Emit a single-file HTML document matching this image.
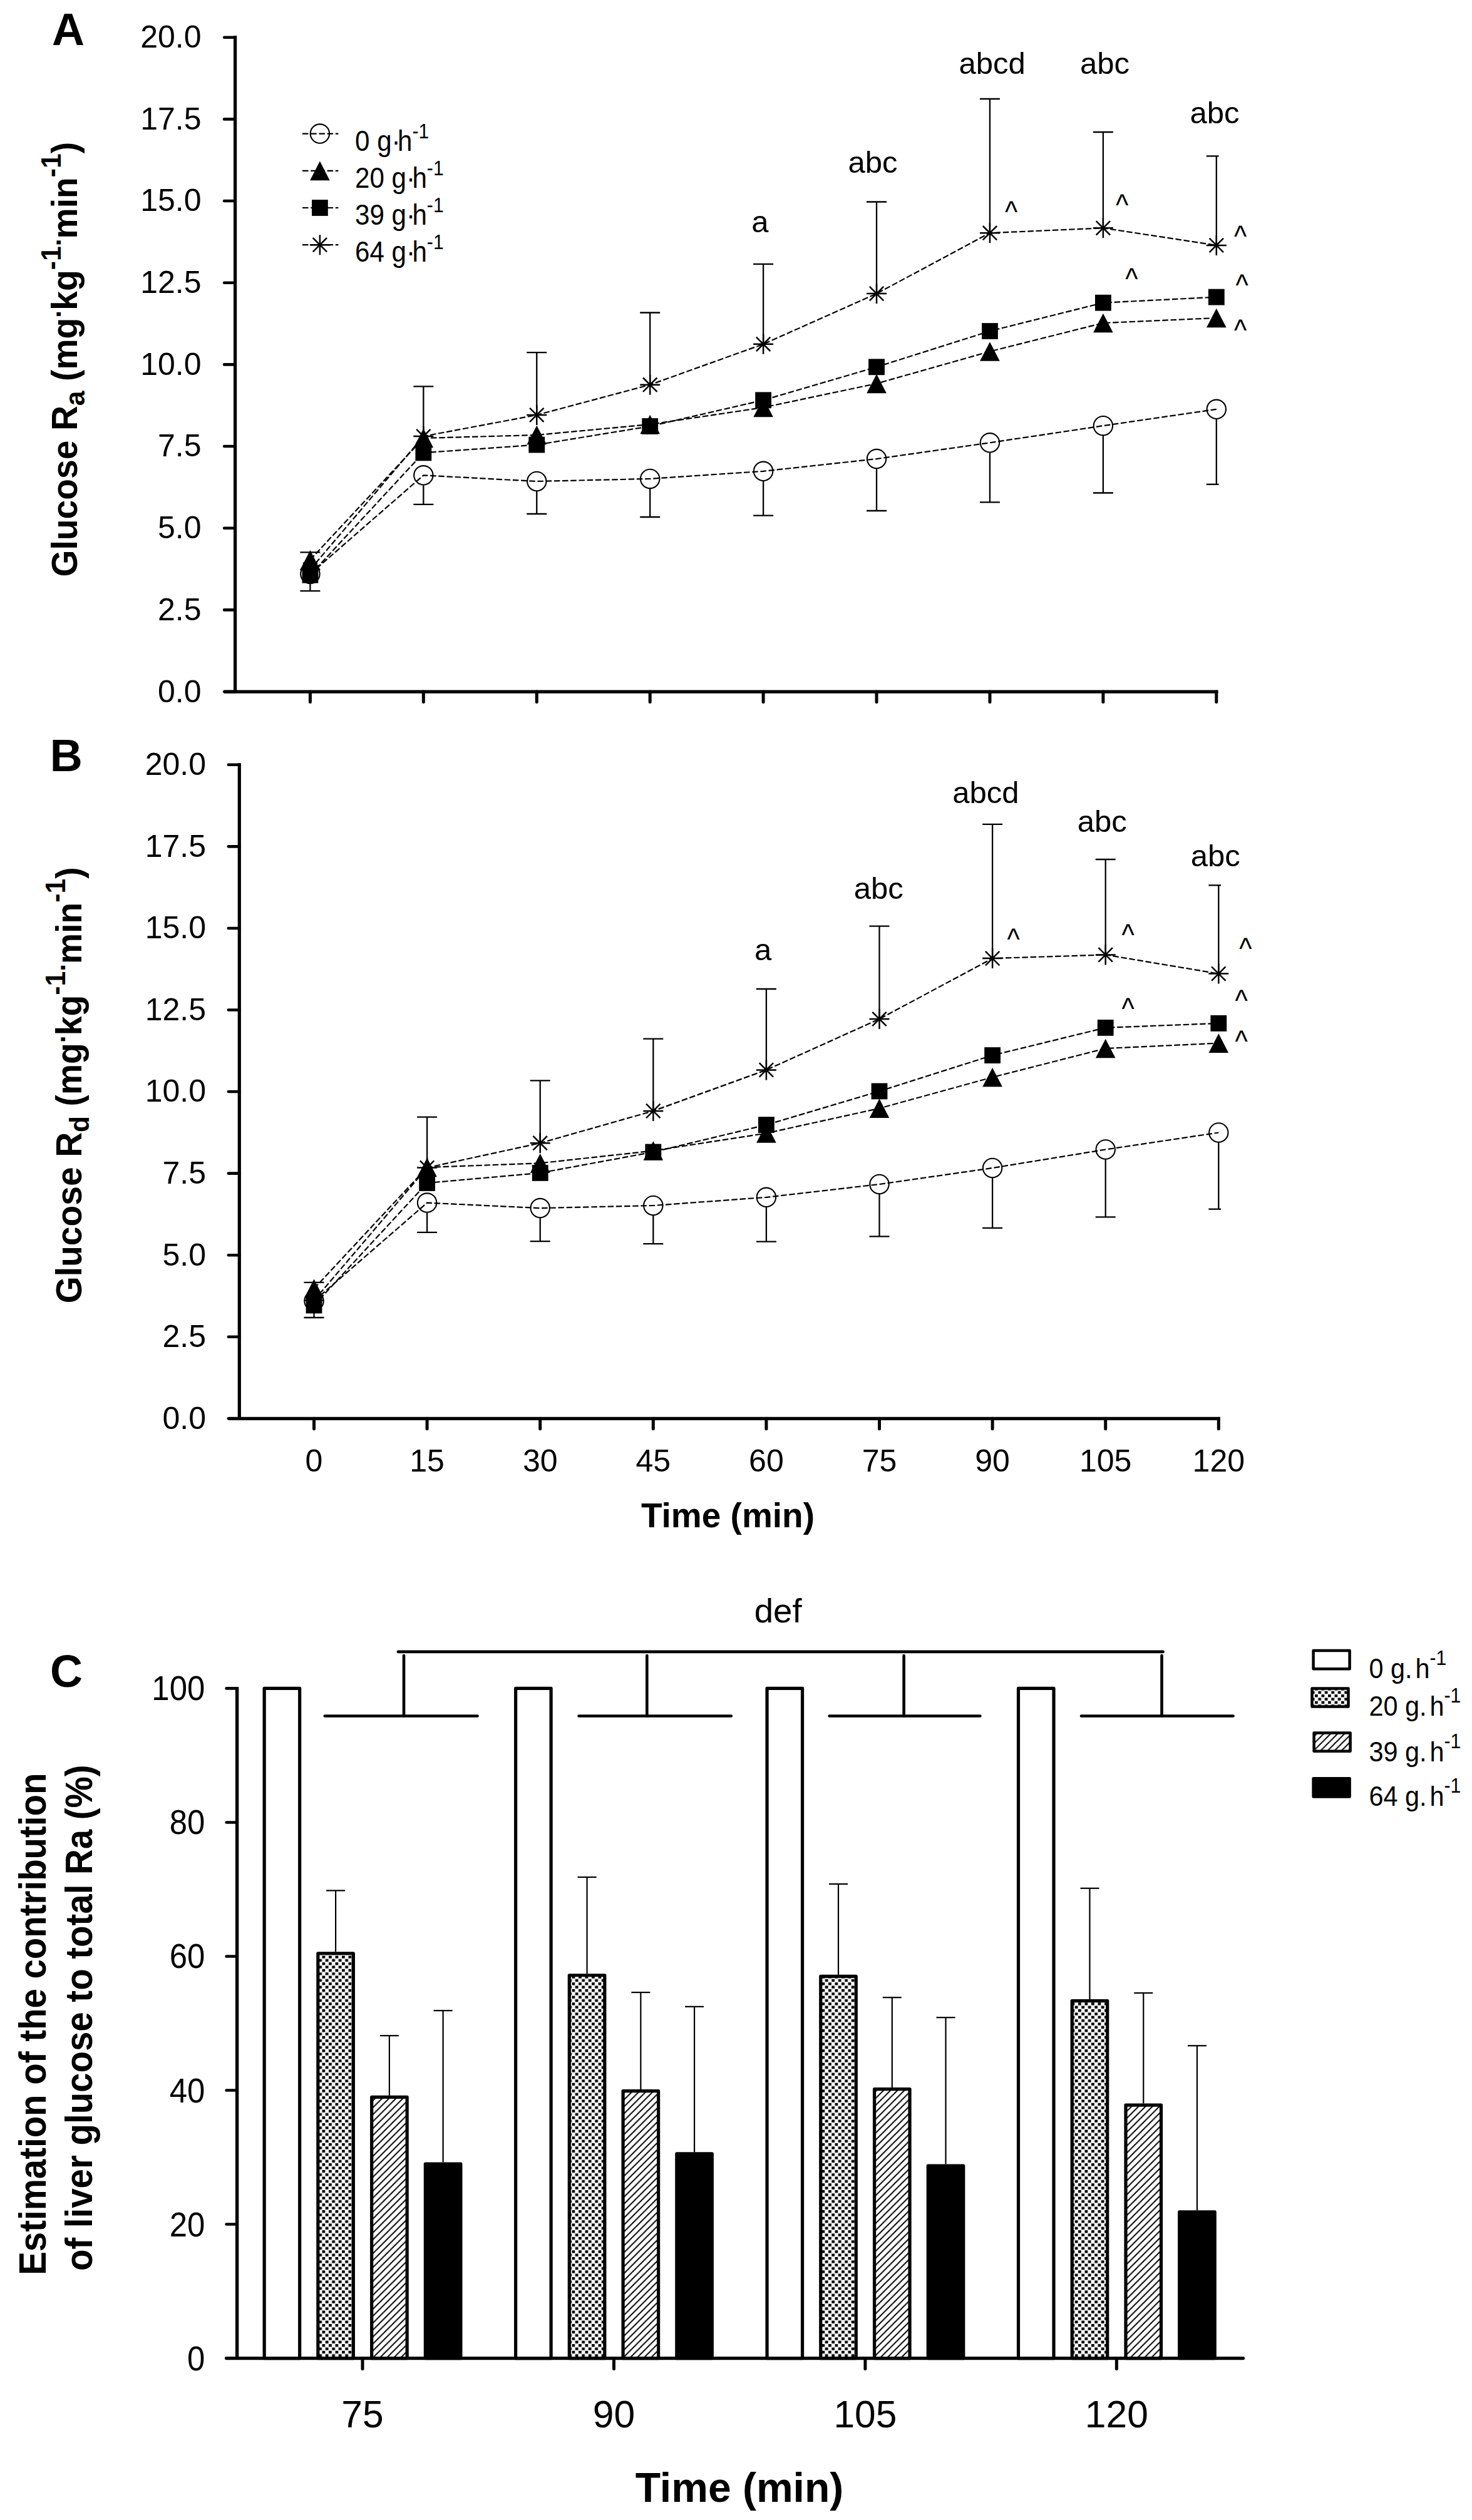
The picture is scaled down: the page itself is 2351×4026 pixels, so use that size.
<!DOCTYPE html>
<html><head><meta charset="utf-8"><title>Figure</title>
<style>html,body{margin:0;padding:0;background:#fff;overflow:hidden;}svg{display:block;}</style></head>
<body><svg width="2351" height="4026" viewBox="0 0 2351 4026" font-family='"Liberation Sans", Arial, sans-serif'>
<rect width="2351" height="4026" fill="#fff"/>
<text x="83" y="71.7" font-size="72" font-weight="bold">A</text>
<line x1="375.6" y1="57.1" x2="375.6" y2="1105.1" stroke="#000" stroke-width="5.2" stroke-linecap="butt" />
<line x1="358.1" y1="1105.1" x2="1945.6" y2="1105.1" stroke="#000" stroke-width="5.2" stroke-linecap="butt" />
<line x1="358.1" y1="1105.1" x2="375.6" y2="1105.1" stroke="#000" stroke-width="4.6" stroke-linecap="round" />
<text x="321.5" y="1121.5" font-size="50" text-anchor="end" font-weight="normal" >0.0</text>
<line x1="358.1" y1="974.42" x2="375.6" y2="974.42" stroke="#000" stroke-width="4.6" stroke-linecap="round" />
<text x="321.5" y="990.82" font-size="50" text-anchor="end" font-weight="normal" >2.5</text>
<line x1="358.1" y1="843.75" x2="375.6" y2="843.75" stroke="#000" stroke-width="4.6" stroke-linecap="round" />
<text x="321.5" y="860.15" font-size="50" text-anchor="end" font-weight="normal" >5.0</text>
<line x1="358.1" y1="713.07" x2="375.6" y2="713.07" stroke="#000" stroke-width="4.6" stroke-linecap="round" />
<text x="321.5" y="729.47" font-size="50" text-anchor="end" font-weight="normal" >7.5</text>
<line x1="358.1" y1="582.4" x2="375.6" y2="582.4" stroke="#000" stroke-width="4.6" stroke-linecap="round" />
<text x="321.5" y="598.8" font-size="50" text-anchor="end" font-weight="normal" >10.0</text>
<line x1="358.1" y1="451.72" x2="375.6" y2="451.72" stroke="#000" stroke-width="4.6" stroke-linecap="round" />
<text x="321.5" y="468.12" font-size="50" text-anchor="end" font-weight="normal" >12.5</text>
<line x1="358.1" y1="321.05" x2="375.6" y2="321.05" stroke="#000" stroke-width="4.6" stroke-linecap="round" />
<text x="321.5" y="337.45" font-size="50" text-anchor="end" font-weight="normal" >15.0</text>
<line x1="358.1" y1="190.38" x2="375.6" y2="190.38" stroke="#000" stroke-width="4.6" stroke-linecap="round" />
<text x="321.5" y="206.78" font-size="50" text-anchor="end" font-weight="normal" >17.5</text>
<line x1="358.1" y1="59.7" x2="375.6" y2="59.7" stroke="#000" stroke-width="4.6" stroke-linecap="round" />
<text x="321.5" y="76.1" font-size="50" text-anchor="end" font-weight="normal" >20.0</text>
<line x1="495.4" y1="1105.1" x2="495.4" y2="1121.6" stroke="#000" stroke-width="5" stroke-linecap="round" />
<line x1="676.33" y1="1105.1" x2="676.33" y2="1121.6" stroke="#000" stroke-width="5" stroke-linecap="round" />
<line x1="857.25" y1="1105.1" x2="857.25" y2="1121.6" stroke="#000" stroke-width="5" stroke-linecap="round" />
<line x1="1038.18" y1="1105.1" x2="1038.18" y2="1121.6" stroke="#000" stroke-width="5" stroke-linecap="round" />
<line x1="1219.1" y1="1105.1" x2="1219.1" y2="1121.6" stroke="#000" stroke-width="5" stroke-linecap="round" />
<line x1="1400.03" y1="1105.1" x2="1400.03" y2="1121.6" stroke="#000" stroke-width="5" stroke-linecap="round" />
<line x1="1580.95" y1="1105.1" x2="1580.95" y2="1121.6" stroke="#000" stroke-width="5" stroke-linecap="round" />
<line x1="1761.88" y1="1105.1" x2="1761.88" y2="1121.6" stroke="#000" stroke-width="5" stroke-linecap="round" />
<line x1="1942.8" y1="1105.1" x2="1942.8" y2="1121.6" stroke="#000" stroke-width="5" stroke-linecap="round" />
<path d="M495.4,917 L676.33,759.3 L857.25,769 L1038.18,764.9 L1219.1,752.8 L1400.03,733.1 L1580.95,707.3 L1761.88,680.2 L1942.8,653.8" fill="none" stroke="#000" stroke-width="2.2" stroke-dasharray="9.5 3.7"/>
<path d="M495.4,894.3 L676.33,700 L857.25,695 L1038.18,678 L1219.1,651 L1400.03,612.8 L1580.95,561.5 L1761.88,516 L1942.8,508" fill="none" stroke="#000" stroke-width="2.2" stroke-dasharray="9.5 3.7"/>
<path d="M495.4,918.7 L676.33,723.4 L857.25,710.6 L1038.18,681 L1219.1,639.3 L1400.03,586.3 L1580.95,529 L1761.88,483.7 L1942.8,474.6" fill="none" stroke="#000" stroke-width="2.2" stroke-dasharray="9.5 3.7"/>
<path d="M495.4,910 L676.33,697 L857.25,663 L1038.18,614.7 L1219.1,549.8 L1400.03,469.1 L1580.95,372.2 L1761.88,364.3 L1942.8,391.9" fill="none" stroke="#000" stroke-width="2.2" stroke-dasharray="9.5 3.7"/>
<line x1="495.4" y1="910" x2="495.4" y2="882.4" stroke="#000" stroke-width="2.3" stroke-linecap="butt" />
<line x1="479.4" y1="882.4" x2="511.4" y2="882.4" stroke="#000" stroke-width="2.3" stroke-linecap="butt" />
<line x1="495.4" y1="933" x2="495.4" y2="944.1" stroke="#000" stroke-width="2.3" stroke-linecap="butt" />
<line x1="479.4" y1="944.1" x2="511.4" y2="944.1" stroke="#000" stroke-width="2.3" stroke-linecap="butt" />
<line x1="676.33" y1="697" x2="676.33" y2="617.3" stroke="#000" stroke-width="2.3" stroke-linecap="butt" />
<line x1="660.33" y1="617.3" x2="692.33" y2="617.3" stroke="#000" stroke-width="2.3" stroke-linecap="butt" />
<line x1="676.33" y1="775.3" x2="676.33" y2="805.8" stroke="#000" stroke-width="2.3" stroke-linecap="butt" />
<line x1="660.33" y1="805.8" x2="692.33" y2="805.8" stroke="#000" stroke-width="2.3" stroke-linecap="butt" />
<line x1="857.25" y1="663" x2="857.25" y2="563.1" stroke="#000" stroke-width="2.3" stroke-linecap="butt" />
<line x1="841.25" y1="563.1" x2="873.25" y2="563.1" stroke="#000" stroke-width="2.3" stroke-linecap="butt" />
<line x1="857.25" y1="785" x2="857.25" y2="821" stroke="#000" stroke-width="2.3" stroke-linecap="butt" />
<line x1="841.25" y1="821" x2="873.25" y2="821" stroke="#000" stroke-width="2.3" stroke-linecap="butt" />
<line x1="1038.18" y1="614.7" x2="1038.18" y2="499.5" stroke="#000" stroke-width="2.3" stroke-linecap="butt" />
<line x1="1022.18" y1="499.5" x2="1054.18" y2="499.5" stroke="#000" stroke-width="2.3" stroke-linecap="butt" />
<line x1="1038.18" y1="780.9" x2="1038.18" y2="826" stroke="#000" stroke-width="2.3" stroke-linecap="butt" />
<line x1="1022.18" y1="826" x2="1054.18" y2="826" stroke="#000" stroke-width="2.3" stroke-linecap="butt" />
<line x1="1219.1" y1="549.8" x2="1219.1" y2="421.8" stroke="#000" stroke-width="2.3" stroke-linecap="butt" />
<line x1="1203.1" y1="421.8" x2="1235.1" y2="421.8" stroke="#000" stroke-width="2.3" stroke-linecap="butt" />
<line x1="1219.1" y1="768.8" x2="1219.1" y2="823.7" stroke="#000" stroke-width="2.3" stroke-linecap="butt" />
<line x1="1203.1" y1="823.7" x2="1235.1" y2="823.7" stroke="#000" stroke-width="2.3" stroke-linecap="butt" />
<line x1="1400.03" y1="469.1" x2="1400.03" y2="322.5" stroke="#000" stroke-width="2.3" stroke-linecap="butt" />
<line x1="1384.03" y1="322.5" x2="1416.03" y2="322.5" stroke="#000" stroke-width="2.3" stroke-linecap="butt" />
<line x1="1400.03" y1="749.1" x2="1400.03" y2="816" stroke="#000" stroke-width="2.3" stroke-linecap="butt" />
<line x1="1384.03" y1="816" x2="1416.03" y2="816" stroke="#000" stroke-width="2.3" stroke-linecap="butt" />
<line x1="1580.95" y1="372.2" x2="1580.95" y2="158" stroke="#000" stroke-width="2.3" stroke-linecap="butt" />
<line x1="1564.95" y1="158" x2="1596.95" y2="158" stroke="#000" stroke-width="2.3" stroke-linecap="butt" />
<line x1="1580.95" y1="723.3" x2="1580.95" y2="802.4" stroke="#000" stroke-width="2.3" stroke-linecap="butt" />
<line x1="1564.95" y1="802.4" x2="1596.95" y2="802.4" stroke="#000" stroke-width="2.3" stroke-linecap="butt" />
<line x1="1761.88" y1="364.3" x2="1761.88" y2="211" stroke="#000" stroke-width="2.3" stroke-linecap="butt" />
<line x1="1745.88" y1="211" x2="1777.88" y2="211" stroke="#000" stroke-width="2.3" stroke-linecap="butt" />
<line x1="1761.88" y1="696.2" x2="1761.88" y2="787.5" stroke="#000" stroke-width="2.3" stroke-linecap="butt" />
<line x1="1745.88" y1="787.5" x2="1777.88" y2="787.5" stroke="#000" stroke-width="2.3" stroke-linecap="butt" />
<line x1="1942.8" y1="391.9" x2="1942.8" y2="249.4" stroke="#000" stroke-width="2.3" stroke-linecap="butt" />
<line x1="1926.8" y1="249.4" x2="1946.6" y2="249.4" stroke="#000" stroke-width="2.3" stroke-linecap="butt" />
<line x1="1942.8" y1="669.8" x2="1942.8" y2="773.8" stroke="#000" stroke-width="2.3" stroke-linecap="butt" />
<line x1="1926.8" y1="773.8" x2="1946.6" y2="773.8" stroke="#000" stroke-width="2.3" stroke-linecap="butt" />
<circle cx="495.4" cy="917" r="15.2" fill="none" stroke="#000" stroke-width="2.1"/>
<circle cx="676.33" cy="759.3" r="15.2" fill="none" stroke="#000" stroke-width="2.1"/>
<circle cx="857.25" cy="769" r="15.2" fill="none" stroke="#000" stroke-width="2.1"/>
<circle cx="1038.18" cy="764.9" r="15.2" fill="none" stroke="#000" stroke-width="2.1"/>
<circle cx="1219.1" cy="752.8" r="15.2" fill="none" stroke="#000" stroke-width="2.1"/>
<circle cx="1400.03" cy="733.1" r="15.2" fill="none" stroke="#000" stroke-width="2.1"/>
<circle cx="1580.95" cy="707.3" r="15.2" fill="none" stroke="#000" stroke-width="2.1"/>
<circle cx="1761.88" cy="680.2" r="15.2" fill="none" stroke="#000" stroke-width="2.1"/>
<circle cx="1942.8" cy="653.8" r="15.2" fill="none" stroke="#000" stroke-width="2.1"/>
<polygon points="495.4,878.95 511.2,909.65 479.6,909.65" fill="#000"/>
<polygon points="676.33,684.65 692.12,715.35 660.53,715.35" fill="#000"/>
<polygon points="857.25,679.65 873.05,710.35 841.45,710.35" fill="#000"/>
<polygon points="1038.18,662.65 1053.98,693.35 1022.38,693.35" fill="#000"/>
<polygon points="1219.1,635.65 1234.9,666.35 1203.3,666.35" fill="#000"/>
<polygon points="1400.03,597.45 1415.83,628.15 1384.23,628.15" fill="#000"/>
<polygon points="1580.95,546.15 1596.75,576.85 1565.15,576.85" fill="#000"/>
<polygon points="1761.88,500.65 1777.67,531.35 1746.08,531.35" fill="#000"/>
<polygon points="1942.8,492.65 1958.6,523.35 1927,523.35" fill="#000"/>
<rect x="482.5" y="905.8" width="25.8" height="25.8" fill="#000"/>
<rect x="663.43" y="710.5" width="25.8" height="25.8" fill="#000"/>
<rect x="844.35" y="697.7" width="25.8" height="25.8" fill="#000"/>
<rect x="1025.28" y="668.1" width="25.8" height="25.8" fill="#000"/>
<rect x="1206.2" y="626.4" width="25.8" height="25.8" fill="#000"/>
<rect x="1387.12" y="573.4" width="25.8" height="25.8" fill="#000"/>
<rect x="1568.05" y="516.1" width="25.8" height="25.8" fill="#000"/>
<rect x="1748.97" y="470.8" width="25.8" height="25.8" fill="#000"/>
<rect x="1929.9" y="461.7" width="25.8" height="25.8" fill="#000"/>
<path d="M479.4,910H511.4M495.4,894V926M484.2,898.8L506.6,921.2M484.2,921.2L506.6,898.8" stroke="#000" stroke-width="2.5" fill="none"/>
<path d="M660.33,697H692.33M676.33,681V713M665.12,685.8L687.53,708.2M665.12,708.2L687.53,685.8" stroke="#000" stroke-width="2.5" fill="none"/>
<path d="M841.25,663H873.25M857.25,647V679M846.05,651.8L868.45,674.2M846.05,674.2L868.45,651.8" stroke="#000" stroke-width="2.5" fill="none"/>
<path d="M1022.18,614.7H1054.18M1038.18,598.7V630.7M1026.98,603.5L1049.38,625.9M1026.98,625.9L1049.38,603.5" stroke="#000" stroke-width="2.5" fill="none"/>
<path d="M1203.1,549.8H1235.1M1219.1,533.8V565.8M1207.9,538.6L1230.3,561M1207.9,561L1230.3,538.6" stroke="#000" stroke-width="2.5" fill="none"/>
<path d="M1384.03,469.1H1416.03M1400.03,453.1V485.1M1388.83,457.9L1411.23,480.3M1388.83,480.3L1411.23,457.9" stroke="#000" stroke-width="2.5" fill="none"/>
<path d="M1564.95,372.2H1596.95M1580.95,356.2V388.2M1569.75,361L1592.15,383.4M1569.75,383.4L1592.15,361" stroke="#000" stroke-width="2.5" fill="none"/>
<path d="M1745.88,364.3H1777.88M1761.88,348.3V380.3M1750.67,353.1L1773.08,375.5M1750.67,375.5L1773.08,353.1" stroke="#000" stroke-width="2.5" fill="none"/>
<path d="M1926.8,391.9H1958.8M1942.8,375.9V407.9M1931.6,380.7L1954,403.1M1931.6,403.1L1954,380.7" stroke="#000" stroke-width="2.5" fill="none"/>
<text x="79.8" y="1231.7" font-size="72" font-weight="bold">B</text>
<line x1="382.3" y1="1219.2" x2="382.3" y2="2266.3" stroke="#000" stroke-width="5.2" stroke-linecap="butt" />
<line x1="364.8" y1="2266.3" x2="1949" y2="2266.3" stroke="#000" stroke-width="5.2" stroke-linecap="butt" />
<line x1="364.8" y1="2266.3" x2="382.3" y2="2266.3" stroke="#000" stroke-width="4.6" stroke-linecap="round" />
<text x="329" y="2282.7" font-size="50" text-anchor="end" font-weight="normal" >0.0</text>
<line x1="364.8" y1="2135.74" x2="382.3" y2="2135.74" stroke="#000" stroke-width="4.6" stroke-linecap="round" />
<text x="329" y="2152.14" font-size="50" text-anchor="end" font-weight="normal" >2.5</text>
<line x1="364.8" y1="2005.18" x2="382.3" y2="2005.18" stroke="#000" stroke-width="4.6" stroke-linecap="round" />
<text x="329" y="2021.58" font-size="50" text-anchor="end" font-weight="normal" >5.0</text>
<line x1="364.8" y1="1874.61" x2="382.3" y2="1874.61" stroke="#000" stroke-width="4.6" stroke-linecap="round" />
<text x="329" y="1891.01" font-size="50" text-anchor="end" font-weight="normal" >7.5</text>
<line x1="364.8" y1="1744.05" x2="382.3" y2="1744.05" stroke="#000" stroke-width="4.6" stroke-linecap="round" />
<text x="329" y="1760.45" font-size="50" text-anchor="end" font-weight="normal" >10.0</text>
<line x1="364.8" y1="1613.49" x2="382.3" y2="1613.49" stroke="#000" stroke-width="4.6" stroke-linecap="round" />
<text x="329" y="1629.89" font-size="50" text-anchor="end" font-weight="normal" >12.5</text>
<line x1="364.8" y1="1482.93" x2="382.3" y2="1482.93" stroke="#000" stroke-width="4.6" stroke-linecap="round" />
<text x="329" y="1499.33" font-size="50" text-anchor="end" font-weight="normal" >15.0</text>
<line x1="364.8" y1="1352.36" x2="382.3" y2="1352.36" stroke="#000" stroke-width="4.6" stroke-linecap="round" />
<text x="329" y="1368.76" font-size="50" text-anchor="end" font-weight="normal" >17.5</text>
<line x1="364.8" y1="1221.8" x2="382.3" y2="1221.8" stroke="#000" stroke-width="4.6" stroke-linecap="round" />
<text x="329" y="1238.2" font-size="50" text-anchor="end" font-weight="normal" >20.0</text>
<line x1="501.5" y1="2266.3" x2="501.5" y2="2282.8" stroke="#000" stroke-width="5" stroke-linecap="round" />
<line x1="682.1" y1="2266.3" x2="682.1" y2="2282.8" stroke="#000" stroke-width="5" stroke-linecap="round" />
<line x1="862.7" y1="2266.3" x2="862.7" y2="2282.8" stroke="#000" stroke-width="5" stroke-linecap="round" />
<line x1="1043.3" y1="2266.3" x2="1043.3" y2="2282.8" stroke="#000" stroke-width="5" stroke-linecap="round" />
<line x1="1223.9" y1="2266.3" x2="1223.9" y2="2282.8" stroke="#000" stroke-width="5" stroke-linecap="round" />
<line x1="1404.5" y1="2266.3" x2="1404.5" y2="2282.8" stroke="#000" stroke-width="5" stroke-linecap="round" />
<line x1="1585.1" y1="2266.3" x2="1585.1" y2="2282.8" stroke="#000" stroke-width="5" stroke-linecap="round" />
<line x1="1765.7" y1="2266.3" x2="1765.7" y2="2282.8" stroke="#000" stroke-width="5" stroke-linecap="round" />
<line x1="1946.3" y1="2266.3" x2="1946.3" y2="2282.8" stroke="#000" stroke-width="5" stroke-linecap="round" />
<text x="501.5" y="2351" font-size="50" text-anchor="middle" font-weight="normal" >0</text>
<text x="682.1" y="2351" font-size="50" text-anchor="middle" font-weight="normal" >15</text>
<text x="862.7" y="2351" font-size="50" text-anchor="middle" font-weight="normal" >30</text>
<text x="1043.3" y="2351" font-size="50" text-anchor="middle" font-weight="normal" >45</text>
<text x="1223.9" y="2351" font-size="50" text-anchor="middle" font-weight="normal" >60</text>
<text x="1404.5" y="2351" font-size="50" text-anchor="middle" font-weight="normal" >75</text>
<text x="1585.1" y="2351" font-size="50" text-anchor="middle" font-weight="normal" >90</text>
<text x="1765.7" y="2351" font-size="50" text-anchor="middle" font-weight="normal" >105</text>
<text x="1946.3" y="2351" font-size="50" text-anchor="middle" font-weight="normal" >120</text>
<path d="M501.5,2078.5 L682.1,1921.6 L862.7,1930.1 L1043.3,1926 L1223.9,1912.8 L1404.5,1892 L1585.1,1866 L1765.7,1836.5 L1946.3,1809.5" fill="none" stroke="#000" stroke-width="2.2" stroke-dasharray="9.5 3.7"/>
<path d="M501.5,2058.8 L682.1,1865 L862.7,1858.3 L1043.3,1838.5 L1223.9,1810.5 L1404.5,1770.7 L1585.1,1721 L1765.7,1675 L1946.3,1666.6" fill="none" stroke="#000" stroke-width="2.2" stroke-dasharray="9.5 3.7"/>
<path d="M501.5,2085.5 L682.1,1890 L862.7,1873.9 L1043.3,1840.5 L1223.9,1797.1 L1404.5,1743.4 L1585.1,1686 L1765.7,1641.9 L1946.3,1634.9" fill="none" stroke="#000" stroke-width="2.2" stroke-dasharray="9.5 3.7"/>
<path d="M501.5,2077.6 L682.1,1865.5 L862.7,1826.2 L1043.3,1774.9 L1223.9,1709.4 L1404.5,1628 L1585.1,1531.1 L1765.7,1525.4 L1946.3,1555.6" fill="none" stroke="#000" stroke-width="2.2" stroke-dasharray="9.5 3.7"/>
<line x1="501.5" y1="2077.6" x2="501.5" y2="2048.9" stroke="#000" stroke-width="2.3" stroke-linecap="butt" />
<line x1="485.5" y1="2048.9" x2="517.5" y2="2048.9" stroke="#000" stroke-width="2.3" stroke-linecap="butt" />
<line x1="501.5" y1="2094.5" x2="501.5" y2="2105" stroke="#000" stroke-width="2.3" stroke-linecap="butt" />
<line x1="485.5" y1="2105" x2="517.5" y2="2105" stroke="#000" stroke-width="2.3" stroke-linecap="butt" />
<line x1="682.1" y1="1865.5" x2="682.1" y2="1784.6" stroke="#000" stroke-width="2.3" stroke-linecap="butt" />
<line x1="666.1" y1="1784.6" x2="698.1" y2="1784.6" stroke="#000" stroke-width="2.3" stroke-linecap="butt" />
<line x1="682.1" y1="1937.6" x2="682.1" y2="1968.8" stroke="#000" stroke-width="2.3" stroke-linecap="butt" />
<line x1="666.1" y1="1968.8" x2="698.1" y2="1968.8" stroke="#000" stroke-width="2.3" stroke-linecap="butt" />
<line x1="862.7" y1="1826.2" x2="862.7" y2="1726.4" stroke="#000" stroke-width="2.3" stroke-linecap="butt" />
<line x1="846.7" y1="1726.4" x2="878.7" y2="1726.4" stroke="#000" stroke-width="2.3" stroke-linecap="butt" />
<line x1="862.7" y1="1946.1" x2="862.7" y2="1983.1" stroke="#000" stroke-width="2.3" stroke-linecap="butt" />
<line x1="846.7" y1="1983.1" x2="878.7" y2="1983.1" stroke="#000" stroke-width="2.3" stroke-linecap="butt" />
<line x1="1043.3" y1="1774.9" x2="1043.3" y2="1659.7" stroke="#000" stroke-width="2.3" stroke-linecap="butt" />
<line x1="1027.3" y1="1659.7" x2="1059.3" y2="1659.7" stroke="#000" stroke-width="2.3" stroke-linecap="butt" />
<line x1="1043.3" y1="1942" x2="1043.3" y2="1987.2" stroke="#000" stroke-width="2.3" stroke-linecap="butt" />
<line x1="1027.3" y1="1987.2" x2="1059.3" y2="1987.2" stroke="#000" stroke-width="2.3" stroke-linecap="butt" />
<line x1="1223.9" y1="1709.4" x2="1223.9" y2="1580" stroke="#000" stroke-width="2.3" stroke-linecap="butt" />
<line x1="1207.9" y1="1580" x2="1239.9" y2="1580" stroke="#000" stroke-width="2.3" stroke-linecap="butt" />
<line x1="1223.9" y1="1928.8" x2="1223.9" y2="1983.7" stroke="#000" stroke-width="2.3" stroke-linecap="butt" />
<line x1="1207.9" y1="1983.7" x2="1239.9" y2="1983.7" stroke="#000" stroke-width="2.3" stroke-linecap="butt" />
<line x1="1404.5" y1="1628" x2="1404.5" y2="1479.6" stroke="#000" stroke-width="2.3" stroke-linecap="butt" />
<line x1="1388.5" y1="1479.6" x2="1420.5" y2="1479.6" stroke="#000" stroke-width="2.3" stroke-linecap="butt" />
<line x1="1404.5" y1="1908" x2="1404.5" y2="1975.4" stroke="#000" stroke-width="2.3" stroke-linecap="butt" />
<line x1="1388.5" y1="1975.4" x2="1420.5" y2="1975.4" stroke="#000" stroke-width="2.3" stroke-linecap="butt" />
<line x1="1585.1" y1="1531.1" x2="1585.1" y2="1316.8" stroke="#000" stroke-width="2.3" stroke-linecap="butt" />
<line x1="1569.1" y1="1316.8" x2="1601.1" y2="1316.8" stroke="#000" stroke-width="2.3" stroke-linecap="butt" />
<line x1="1585.1" y1="1882" x2="1585.1" y2="1961.9" stroke="#000" stroke-width="2.3" stroke-linecap="butt" />
<line x1="1569.1" y1="1961.9" x2="1601.1" y2="1961.9" stroke="#000" stroke-width="2.3" stroke-linecap="butt" />
<line x1="1765.7" y1="1525.4" x2="1765.7" y2="1373" stroke="#000" stroke-width="2.3" stroke-linecap="butt" />
<line x1="1749.7" y1="1373" x2="1781.7" y2="1373" stroke="#000" stroke-width="2.3" stroke-linecap="butt" />
<line x1="1765.7" y1="1852.5" x2="1765.7" y2="1944.4" stroke="#000" stroke-width="2.3" stroke-linecap="butt" />
<line x1="1749.7" y1="1944.4" x2="1781.7" y2="1944.4" stroke="#000" stroke-width="2.3" stroke-linecap="butt" />
<line x1="1946.3" y1="1555.6" x2="1946.3" y2="1414.3" stroke="#000" stroke-width="2.3" stroke-linecap="butt" />
<line x1="1930.3" y1="1414.3" x2="1950" y2="1414.3" stroke="#000" stroke-width="2.3" stroke-linecap="butt" />
<line x1="1946.3" y1="1825.5" x2="1946.3" y2="1931.7" stroke="#000" stroke-width="2.3" stroke-linecap="butt" />
<line x1="1930.3" y1="1931.7" x2="1950" y2="1931.7" stroke="#000" stroke-width="2.3" stroke-linecap="butt" />
<circle cx="501.5" cy="2078.5" r="15.2" fill="none" stroke="#000" stroke-width="2.1"/>
<circle cx="682.1" cy="1921.6" r="15.2" fill="none" stroke="#000" stroke-width="2.1"/>
<circle cx="862.7" cy="1930.1" r="15.2" fill="none" stroke="#000" stroke-width="2.1"/>
<circle cx="1043.3" cy="1926" r="15.2" fill="none" stroke="#000" stroke-width="2.1"/>
<circle cx="1223.9" cy="1912.8" r="15.2" fill="none" stroke="#000" stroke-width="2.1"/>
<circle cx="1404.5" cy="1892" r="15.2" fill="none" stroke="#000" stroke-width="2.1"/>
<circle cx="1585.1" cy="1866" r="15.2" fill="none" stroke="#000" stroke-width="2.1"/>
<circle cx="1765.7" cy="1836.5" r="15.2" fill="none" stroke="#000" stroke-width="2.1"/>
<circle cx="1946.3" cy="1809.5" r="15.2" fill="none" stroke="#000" stroke-width="2.1"/>
<polygon points="501.5,2043.45 517.3,2074.15 485.7,2074.15" fill="#000"/>
<polygon points="682.1,1849.65 697.9,1880.35 666.3,1880.35" fill="#000"/>
<polygon points="862.7,1842.95 878.5,1873.65 846.9,1873.65" fill="#000"/>
<polygon points="1043.3,1823.15 1059.1,1853.85 1027.5,1853.85" fill="#000"/>
<polygon points="1223.9,1795.15 1239.7,1825.85 1208.1,1825.85" fill="#000"/>
<polygon points="1404.5,1755.35 1420.3,1786.05 1388.7,1786.05" fill="#000"/>
<polygon points="1585.1,1705.65 1600.9,1736.35 1569.3,1736.35" fill="#000"/>
<polygon points="1765.7,1659.65 1781.5,1690.35 1749.9,1690.35" fill="#000"/>
<polygon points="1946.3,1651.25 1962.1,1681.95 1930.5,1681.95" fill="#000"/>
<rect x="488.6" y="2072.6" width="25.8" height="25.8" fill="#000"/>
<rect x="669.2" y="1877.1" width="25.8" height="25.8" fill="#000"/>
<rect x="849.8" y="1861" width="25.8" height="25.8" fill="#000"/>
<rect x="1030.4" y="1827.6" width="25.8" height="25.8" fill="#000"/>
<rect x="1211" y="1784.2" width="25.8" height="25.8" fill="#000"/>
<rect x="1391.6" y="1730.5" width="25.8" height="25.8" fill="#000"/>
<rect x="1572.2" y="1673.1" width="25.8" height="25.8" fill="#000"/>
<rect x="1752.8" y="1629" width="25.8" height="25.8" fill="#000"/>
<rect x="1933.4" y="1622" width="25.8" height="25.8" fill="#000"/>
<path d="M485.5,2077.6H517.5M501.5,2061.6V2093.6M490.3,2066.4L512.7,2088.8M490.3,2088.8L512.7,2066.4" stroke="#000" stroke-width="2.5" fill="none"/>
<path d="M666.1,1865.5H698.1M682.1,1849.5V1881.5M670.9,1854.3L693.3,1876.7M670.9,1876.7L693.3,1854.3" stroke="#000" stroke-width="2.5" fill="none"/>
<path d="M846.7,1826.2H878.7M862.7,1810.2V1842.2M851.5,1815L873.9,1837.4M851.5,1837.4L873.9,1815" stroke="#000" stroke-width="2.5" fill="none"/>
<path d="M1027.3,1774.9H1059.3M1043.3,1758.9V1790.9M1032.1,1763.7L1054.5,1786.1M1032.1,1786.1L1054.5,1763.7" stroke="#000" stroke-width="2.5" fill="none"/>
<path d="M1207.9,1709.4H1239.9M1223.9,1693.4V1725.4M1212.7,1698.2L1235.1,1720.6M1212.7,1720.6L1235.1,1698.2" stroke="#000" stroke-width="2.5" fill="none"/>
<path d="M1388.5,1628H1420.5M1404.5,1612V1644M1393.3,1616.8L1415.7,1639.2M1393.3,1639.2L1415.7,1616.8" stroke="#000" stroke-width="2.5" fill="none"/>
<path d="M1569.1,1531.1H1601.1M1585.1,1515.1V1547.1M1573.9,1519.9L1596.3,1542.3M1573.9,1542.3L1596.3,1519.9" stroke="#000" stroke-width="2.5" fill="none"/>
<path d="M1749.7,1525.4H1781.7M1765.7,1509.4V1541.4M1754.5,1514.2L1776.9,1536.6M1754.5,1536.6L1776.9,1514.2" stroke="#000" stroke-width="2.5" fill="none"/>
<path d="M1930.3,1555.6H1962.3M1946.3,1539.6V1571.6M1935.1,1544.4L1957.5,1566.8M1935.1,1566.8L1957.5,1544.4" stroke="#000" stroke-width="2.5" fill="none"/>
<text x="1214" y="370.5" font-size="49" text-anchor="middle" font-weight="normal" >a</text>
<text x="1394" y="276.4" font-size="49" text-anchor="middle" font-weight="normal" >abc</text>
<text x="1584.7" y="118.3" font-size="49" text-anchor="middle" font-weight="normal" >abcd</text>
<text x="1764.6" y="118.3" font-size="49" text-anchor="middle" font-weight="normal" >abc</text>
<text x="1940" y="197.3" font-size="49" text-anchor="middle" font-weight="normal" >abc</text>
<text transform="translate(1615,355.3) scale(0.88,1)" font-size="49" text-anchor="middle" font-weight="normal" >^</text>
<text transform="translate(1792,344.2) scale(0.88,1)" font-size="49" text-anchor="middle" font-weight="normal" >^</text>
<text transform="translate(1807.3,461.5) scale(0.88,1)" font-size="49" text-anchor="middle" font-weight="normal" >^</text>
<text transform="translate(1981,393.5) scale(0.88,1)" font-size="49" text-anchor="middle" font-weight="normal" >^</text>
<text transform="translate(1983.5,472.2) scale(0.88,1)" font-size="49" text-anchor="middle" font-weight="normal" >^</text>
<text transform="translate(1981,544.2) scale(0.88,1)" font-size="49" text-anchor="middle" font-weight="normal" >^</text>
<text x="1218.6" y="1533.5" font-size="49" text-anchor="middle" font-weight="normal" >a</text>
<text x="1403.2" y="1436.4" font-size="49" text-anchor="middle" font-weight="normal" >abc</text>
<text x="1574.5" y="1282.5" font-size="49" text-anchor="middle" font-weight="normal" >abcd</text>
<text x="1760.3" y="1328.6" font-size="49" text-anchor="middle" font-weight="normal" >abc</text>
<text x="1941.3" y="1384.1" font-size="49" text-anchor="middle" font-weight="normal" >abc</text>
<text transform="translate(1618.7,1516.5) scale(0.88,1)" font-size="49" text-anchor="middle" font-weight="normal" >^</text>
<text transform="translate(1801.5,1510.1) scale(0.88,1)" font-size="49" text-anchor="middle" font-weight="normal" >^</text>
<text transform="translate(1801.5,1627.5) scale(0.88,1)" font-size="49" text-anchor="middle" font-weight="normal" >^</text>
<text transform="translate(1989.4,1532.3) scale(0.88,1)" font-size="49" text-anchor="middle" font-weight="normal" >^</text>
<text transform="translate(1982.5,1614.9) scale(0.88,1)" font-size="49" text-anchor="middle" font-weight="normal" >^</text>
<text transform="translate(1982.5,1679.9) scale(0.88,1)" font-size="49" text-anchor="middle" font-weight="normal" >^</text>
<line x1="483" y1="213.6" x2="540.4" y2="213.6" stroke="#000" stroke-width="2.2" stroke-linecap="butt" stroke-dasharray="9.5 3.7"/>
<circle cx="510.9" cy="213.6" r="15.2" fill="none" stroke="#000" stroke-width="2.1"/>
<text transform="translate(567,240.8) scale(0.92,1)" font-size="45.8">0 g·<tspan dx="-5">h</tspan><tspan font-size="32.7" dy="-20.3">-1</tspan></text>
<line x1="483" y1="272.8" x2="540.4" y2="272.8" stroke="#000" stroke-width="2.2" stroke-linecap="butt" stroke-dasharray="9.5 3.7"/>
<polygon points="510.9,257.45 526.7,288.15 495.1,288.15" fill="#000"/>
<text transform="translate(567,300) scale(0.92,1)" font-size="45.8">20 g·<tspan dx="-5">h</tspan><tspan font-size="32.7" dy="-20.3">-1</tspan></text>
<line x1="483" y1="332" x2="540.4" y2="332" stroke="#000" stroke-width="2.2" stroke-linecap="butt" stroke-dasharray="9.5 3.7"/>
<rect x="498" y="319.1" width="25.8" height="25.8" fill="#000"/>
<text transform="translate(567,359.2) scale(0.92,1)" font-size="45.8">39 g·<tspan dx="-5">h</tspan><tspan font-size="32.7" dy="-20.3">-1</tspan></text>
<line x1="483" y1="391.2" x2="540.4" y2="391.2" stroke="#000" stroke-width="2.2" stroke-linecap="butt" stroke-dasharray="9.5 3.7"/>
<path d="M494.9,391.2H526.9M510.9,375.2V407.2M499.7,380L522.1,402.4M499.7,402.4L522.1,380" stroke="#000" stroke-width="2.5" fill="none"/>
<text transform="translate(567,418.4) scale(0.92,1)" font-size="45.8">64 g·<tspan dx="-5">h</tspan><tspan font-size="32.7" dy="-20.3">-1</tspan></text>
<text transform="translate(123,574.2) rotate(-90) scale(0.97,1)" font-size="57" font-weight="bold" text-anchor="middle">Glucose R<tspan font-size="44" dy="12">a</tspan><tspan dy="-12"> (mg</tspan><tspan font-size="44" dy="-26">.</tspan><tspan dy="26">kg</tspan><tspan font-size="44" dy="-26">-1.</tspan><tspan dy="26">min</tspan><tspan font-size="44" dy="-26">-1</tspan><tspan dy="26">)</tspan></text>
<text transform="translate(130,1733.8) rotate(-90) scale(0.97,1)" font-size="57" font-weight="bold" text-anchor="middle">Glucose R<tspan font-size="44" dy="12">d</tspan><tspan dy="-12"> (mg</tspan><tspan font-size="44" dy="-26">.</tspan><tspan dy="26">kg</tspan><tspan font-size="44" dy="-26">-1.</tspan><tspan dy="26">min</tspan><tspan font-size="44" dy="-26">-1</tspan><tspan dy="26">)</tspan></text>
<text x="1162.5" y="2439.6" font-size="55" text-anchor="middle" font-weight="bold" >Time (min)</text>
<text x="80" y="2694.6" font-size="72" font-weight="bold">C</text>
<line x1="378.6" y1="2694.9" x2="378.6" y2="3767.6" stroke="#000" stroke-width="5.4" stroke-linecap="butt" />
<line x1="361.6" y1="3767.6" x2="1985.5" y2="3767.6" stroke="#000" stroke-width="5.4" stroke-linecap="round" />
<line x1="361.6" y1="3767.6" x2="378.6" y2="3767.6" stroke="#000" stroke-width="4.6" stroke-linecap="round" />
<text transform="translate(327.3,3786.6) scale(0.926,1)" font-size="55" text-anchor="end" font-weight="normal" >0</text>
<line x1="361.6" y1="3553.56" x2="378.6" y2="3553.56" stroke="#000" stroke-width="4.6" stroke-linecap="round" />
<text transform="translate(327.3,3572.56) scale(0.926,1)" font-size="55" text-anchor="end" font-weight="normal" >20</text>
<line x1="361.6" y1="3339.52" x2="378.6" y2="3339.52" stroke="#000" stroke-width="4.6" stroke-linecap="round" />
<text transform="translate(327.3,3358.52) scale(0.926,1)" font-size="55" text-anchor="end" font-weight="normal" >40</text>
<line x1="361.6" y1="3125.48" x2="378.6" y2="3125.48" stroke="#000" stroke-width="4.6" stroke-linecap="round" />
<text transform="translate(327.3,3144.48) scale(0.926,1)" font-size="55" text-anchor="end" font-weight="normal" >60</text>
<line x1="361.6" y1="2911.44" x2="378.6" y2="2911.44" stroke="#000" stroke-width="4.6" stroke-linecap="round" />
<text transform="translate(327.3,2930.44) scale(0.926,1)" font-size="55" text-anchor="end" font-weight="normal" >80</text>
<line x1="361.6" y1="2697.4" x2="378.6" y2="2697.4" stroke="#000" stroke-width="4.6" stroke-linecap="round" />
<text transform="translate(327.3,2716.4) scale(0.926,1)" font-size="55" text-anchor="end" font-weight="normal" >100</text>
<line x1="579" y1="3767.6" x2="579" y2="3784.6" stroke="#000" stroke-width="5" stroke-linecap="round" />
<text x="579" y="3878" font-size="60.5" text-anchor="middle" font-weight="normal" >75</text>
<line x1="980.45" y1="3767.6" x2="980.45" y2="3784.6" stroke="#000" stroke-width="5" stroke-linecap="round" />
<text x="980.45" y="3878" font-size="60.5" text-anchor="middle" font-weight="normal" >90</text>
<line x1="1381.9" y1="3767.6" x2="1381.9" y2="3784.6" stroke="#000" stroke-width="5" stroke-linecap="round" />
<text x="1381.9" y="3878" font-size="60.5" text-anchor="middle" font-weight="normal" >105</text>
<line x1="1783.35" y1="3767.6" x2="1783.35" y2="3784.6" stroke="#000" stroke-width="5" stroke-linecap="round" />
<text x="1783.35" y="3878" font-size="60.5" text-anchor="middle" font-weight="normal" >120</text>
<text x="1181" y="3997" font-size="66" text-anchor="middle" font-weight="bold" >Time (min)</text>
<defs>
<pattern id="chk" patternUnits="userSpaceOnUse" width="10.5" height="10.7" x="0" y="0">
<rect width="10.5" height="10.7" fill="#fff"/><rect width="4.8" height="4.3" fill="#000"/><rect x="5.25" y="5.35" width="4.8" height="4.3" fill="#000"/>
</pattern>
<pattern id="hat" patternUnits="userSpaceOnUse" width="11.1" height="11.1">
<rect width="11.1" height="11.1" fill="#fff"/><path d="M-2,2L2,-2M0,11.1L11.1,0M9.1,13.1L13.1,9.1" stroke="#000" stroke-width="2"/>
</pattern>
</defs>
<rect x="422.15" y="2697.4" width="56.5" height="1070.2" fill="#fff" stroke="#000" stroke-width="5.2" stroke-linejoin="round"/>
<rect x="507.85" y="3120.77" width="56.5" height="646.83" fill="url(#chk)" stroke="#000" stroke-width="5.2" stroke-linejoin="round"/>
<line x1="536.1" y1="3118.17" x2="536.1" y2="3020.39" stroke="#000" stroke-width="2.2" stroke-linecap="butt" />
<line x1="521.1" y1="3020.39" x2="551.1" y2="3020.39" stroke="#000" stroke-width="2.2" stroke-linecap="butt" />
<rect x="593.65" y="3350.44" width="56.5" height="417.16" fill="url(#hat)" stroke="#000" stroke-width="5.2" stroke-linejoin="round"/>
<line x1="621.9" y1="3347.84" x2="621.9" y2="3252.19" stroke="#000" stroke-width="2.2" stroke-linecap="butt" />
<line x1="606.9" y1="3252.19" x2="636.9" y2="3252.19" stroke="#000" stroke-width="2.2" stroke-linecap="butt" />
<rect x="679.35" y="3457.03" width="56.5" height="310.57" fill="#000" stroke="#000" stroke-width="5.2" stroke-linejoin="round"/>
<line x1="707.6" y1="3454.43" x2="707.6" y2="3212.17" stroke="#000" stroke-width="2.2" stroke-linecap="butt" />
<line x1="692.6" y1="3212.17" x2="722.6" y2="3212.17" stroke="#000" stroke-width="2.2" stroke-linecap="butt" />
<rect x="823.6" y="2697.4" width="56.5" height="1070.2" fill="#fff" stroke="#000" stroke-width="5.2" stroke-linejoin="round"/>
<rect x="909.3" y="3155.77" width="56.5" height="611.83" fill="url(#chk)" stroke="#000" stroke-width="5.2" stroke-linejoin="round"/>
<line x1="937.55" y1="3153.17" x2="937.55" y2="2998.98" stroke="#000" stroke-width="2.2" stroke-linecap="butt" />
<line x1="922.55" y1="2998.98" x2="952.55" y2="2998.98" stroke="#000" stroke-width="2.2" stroke-linecap="butt" />
<rect x="995.1" y="3340.7" width="56.5" height="426.9" fill="url(#hat)" stroke="#000" stroke-width="5.2" stroke-linejoin="round"/>
<line x1="1023.35" y1="3338.1" x2="1023.35" y2="3183.06" stroke="#000" stroke-width="2.2" stroke-linecap="butt" />
<line x1="1008.35" y1="3183.06" x2="1038.35" y2="3183.06" stroke="#000" stroke-width="2.2" stroke-linecap="butt" />
<rect x="1080.8" y="3440.97" width="56.5" height="326.63" fill="#000" stroke="#000" stroke-width="5.2" stroke-linejoin="round"/>
<line x1="1109.05" y1="3438.37" x2="1109.05" y2="3205.85" stroke="#000" stroke-width="2.2" stroke-linecap="butt" />
<line x1="1094.05" y1="3205.85" x2="1124.05" y2="3205.85" stroke="#000" stroke-width="2.2" stroke-linecap="butt" />
<rect x="1225.05" y="2697.4" width="56.5" height="1070.2" fill="#fff" stroke="#000" stroke-width="5.2" stroke-linejoin="round"/>
<rect x="1310.75" y="3157.37" width="56.5" height="610.23" fill="url(#chk)" stroke="#000" stroke-width="5.2" stroke-linejoin="round"/>
<line x1="1339" y1="3154.77" x2="1339" y2="3009.9" stroke="#000" stroke-width="2.2" stroke-linecap="butt" />
<line x1="1324" y1="3009.9" x2="1354" y2="3009.9" stroke="#000" stroke-width="2.2" stroke-linecap="butt" />
<rect x="1396.55" y="3337.7" width="56.5" height="429.9" fill="url(#hat)" stroke="#000" stroke-width="5.2" stroke-linejoin="round"/>
<line x1="1424.8" y1="3335.1" x2="1424.8" y2="3191.19" stroke="#000" stroke-width="2.2" stroke-linecap="butt" />
<line x1="1409.8" y1="3191.19" x2="1439.8" y2="3191.19" stroke="#000" stroke-width="2.2" stroke-linecap="butt" />
<rect x="1482.25" y="3460.02" width="56.5" height="307.58" fill="#000" stroke="#000" stroke-width="5.2" stroke-linejoin="round"/>
<line x1="1510.5" y1="3457.42" x2="1510.5" y2="3223.19" stroke="#000" stroke-width="2.2" stroke-linecap="butt" />
<line x1="1495.5" y1="3223.19" x2="1525.5" y2="3223.19" stroke="#000" stroke-width="2.2" stroke-linecap="butt" />
<rect x="1626.5" y="2697.4" width="56.5" height="1070.2" fill="#fff" stroke="#000" stroke-width="5.2" stroke-linejoin="round"/>
<rect x="1712.2" y="3196.54" width="56.5" height="571.06" fill="url(#chk)" stroke="#000" stroke-width="5.2" stroke-linejoin="round"/>
<line x1="1740.45" y1="3193.94" x2="1740.45" y2="3016.75" stroke="#000" stroke-width="2.2" stroke-linecap="butt" />
<line x1="1725.45" y1="3016.75" x2="1755.45" y2="3016.75" stroke="#000" stroke-width="2.2" stroke-linecap="butt" />
<rect x="1798" y="3363.06" width="56.5" height="404.54" fill="url(#hat)" stroke="#000" stroke-width="5.2" stroke-linejoin="round"/>
<line x1="1826.25" y1="3360.46" x2="1826.25" y2="3184.02" stroke="#000" stroke-width="2.2" stroke-linecap="butt" />
<line x1="1811.25" y1="3184.02" x2="1841.25" y2="3184.02" stroke="#000" stroke-width="2.2" stroke-linecap="butt" />
<rect x="1883.7" y="3533.76" width="56.5" height="233.84" fill="#000" stroke="#000" stroke-width="5.2" stroke-linejoin="round"/>
<line x1="1911.95" y1="3531.16" x2="1911.95" y2="3268.24" stroke="#000" stroke-width="2.2" stroke-linecap="butt" />
<line x1="1896.95" y1="3268.24" x2="1926.95" y2="3268.24" stroke="#000" stroke-width="2.2" stroke-linecap="butt" />
<line x1="636" y1="2638.9" x2="1857.5" y2="2638.9" stroke="#000" stroke-width="4.8" stroke-linecap="round" />
<line x1="645" y1="2645" x2="645" y2="2741.5" stroke="#000" stroke-width="4.6" stroke-linecap="round" />
<line x1="1033.3" y1="2645" x2="1033.3" y2="2741.5" stroke="#000" stroke-width="4.6" stroke-linecap="round" />
<line x1="1443.6" y1="2645" x2="1443.6" y2="2741.5" stroke="#000" stroke-width="4.6" stroke-linecap="round" />
<line x1="1855.5" y1="2645" x2="1855.5" y2="2741.5" stroke="#000" stroke-width="4.6" stroke-linecap="round" />
<line x1="518.8" y1="2741.5" x2="762.5" y2="2741.5" stroke="#000" stroke-width="4.6" stroke-linecap="round" />
<line x1="924.5" y1="2741.5" x2="1167.8" y2="2741.5" stroke="#000" stroke-width="4.6" stroke-linecap="round" />
<line x1="1324.7" y1="2741.5" x2="1565.4" y2="2741.5" stroke="#000" stroke-width="4.6" stroke-linecap="round" />
<line x1="1727" y1="2741.5" x2="1969.6" y2="2741.5" stroke="#000" stroke-width="4.6" stroke-linecap="round" />
<text transform="translate(1242.7,2592.3) scale(1.03,1)" font-size="53" text-anchor="middle" font-weight="normal" >def</text>
<rect x="2097.6" y="2637.1" width="58" height="29.2" fill="#fff" stroke="#000" stroke-width="4.5" stroke-linejoin="round"/>
<rect x="2095.5" y="2697.4" width="58" height="29.2" fill="url(#chk)" stroke="#000" stroke-width="4.5" stroke-linejoin="round"/>
<rect x="2098.6" y="2768.6" width="58" height="29.2" fill="url(#hat)" stroke="#000" stroke-width="4.5" stroke-linejoin="round"/>
<rect x="2097.6" y="2841.2" width="58" height="29.2" fill="#000" stroke="#000" stroke-width="4.5" stroke-linejoin="round"/>
<text transform="translate(2186.5,2681.4) scale(0.92,1)" font-size="45">0 g.<tspan dx="5.4">h</tspan><tspan font-size="32.8" dy="-21">-1</tspan></text>
<text transform="translate(2186.5,2741.1) scale(0.92,1)" font-size="45">20 g.<tspan dx="5.4">h</tspan><tspan font-size="32.8" dy="-21">-1</tspan></text>
<text transform="translate(2186.5,2813.7) scale(0.92,1)" font-size="45">39 g.<tspan dx="5.4">h</tspan><tspan font-size="32.8" dy="-21">-1</tspan></text>
<text transform="translate(2186.5,2885.3) scale(0.92,1)" font-size="45">64 g.<tspan dx="5.4">h</tspan><tspan font-size="32.8" dy="-21">-1</tspan></text>
<text transform="translate(73.4,3233.7) rotate(-90) scale(0.91,1)" font-size="62" font-weight="bold" text-anchor="middle">Estimation of the contribution</text>
<text transform="translate(146.8,3223.8) rotate(-90) scale(0.91,1)" font-size="62" font-weight="bold" text-anchor="middle">of liver glucose to total Ra (%)</text>
</svg></body></html>
